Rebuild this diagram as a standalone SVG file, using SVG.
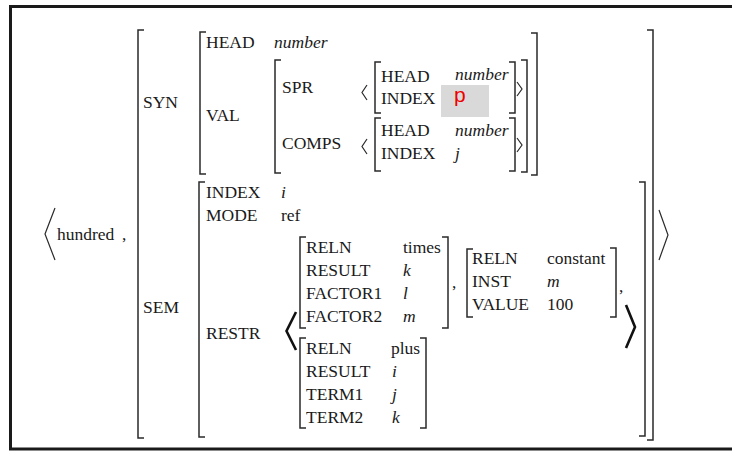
<svg xmlns="http://www.w3.org/2000/svg" width="732" height="452" viewBox="0 0 732 452">
<style>
text{font-family:"Liberation Serif","DejaVu Serif",serif;font-size:17.5px;fill:#1a1a1a}
.i{font-style:italic}
.br{fill:none;stroke:#2a2a2a;stroke-width:1.5}
.ang{fill:none;stroke:#2a2a2a;stroke-width:1.2}
.bang{fill:none;stroke:#111;stroke-width:2.6}
text.p{font-family:"Liberation Sans","DejaVu Sans",sans-serif;font-size:21px;fill:#ee0000}
</style>
<rect x="0" y="0" width="732" height="452" fill="#ffffff"/>
<rect x="10.5" y="6.5" width="740" height="442.5" fill="#ffffff" stroke="#1a1a1a" stroke-width="3"/>

<g font-family="Liberation Serif, serif">
<g id="outer">
  <path class="ang" d="M55 208 L45 234 L55 260"/>
  <text x="57" y="240">hundred</text>
  <text x="122" y="240">,</text>
  <path class="br" d="M144 30 H138 V438 H144"/>
  <path class="br" d="M647 30 H653 V440 H647"/>
  <path class="ang" d="M659 210 L668 235 L659 260"/>
  <text x="143" y="108">SYN</text>
  <text x="143" y="313">SEM</text>
</g>

<g id="syn">
  <path class="br" d="M206 32 H200 V174 H206"/>
  <path class="br" d="M531 33 H537 V175 H531"/>
  <text x="206" y="48">HEAD</text>
  <text class="i" x="274" y="48">number</text>
  <text x="206" y="121">VAL</text>
</g>

<g id="val">
  <path class="br" d="M281 60 H275 V173 H281"/>
  <path class="br" d="M521 60 H527 V172 H521"/>
  <text x="282" y="93">SPR</text>
  <text x="282" y="149">COMPS</text>
</g>

<g id="spr">
  <path class="ang" d="M367 85 L362 92.5 L367 100"/>
  <path class="br" d="M381 62 H375 V113 H381"/>
  <path class="br" d="M509 62 H515 V113 H509"/>
  <path class="ang" d="M517 82 L522 89 L517 96"/>
  <text x="381" y="82">HEAD</text>
  <text class="i" x="455" y="80">number</text>
  <text x="381" y="104">INDEX</text>
  <rect x="441" y="85" width="48" height="32" fill="#d9d9d9"/>
  <text class="p" x="454" y="102">p</text>
</g>

<g id="comps">
  <path class="ang" d="M367 139 L362 146.5 L367 154"/>
  <path class="br" d="M381 118 H375 V171 H381"/>
  <path class="br" d="M509 118 H515 V171 H509"/>
  <path class="ang" d="M517 138 L522 145 L517 152"/>
  <text x="381" y="136">HEAD</text>
  <text class="i" x="455" y="136">number</text>
  <text x="381" y="159">INDEX</text>
  <text class="i" x="455" y="159">j</text>
</g>

<g id="sem">
  <path class="br" d="M205 182 H199 V437 H205"/>
  <path class="br" d="M639 182 H645 V436 H639"/>
  <text x="206" y="198">INDEX</text>
  <text class="i" x="281" y="198">i</text>
  <text x="206" y="221">MODE</text>
  <text x="281" y="221">ref</text>
  <text x="206" y="339">RESTR</text>
  <path class="bang" d="M296 312 L286.5 331 L296 350"/>
  <path class="bang" d="M626 305 L635 327 L626 348"/>
</g>

<g id="times">
  <path class="br" d="M306 237 H300 V328 H306"/>
  <path class="br" d="M442 237 H448 V328 H442"/>
  <text x="306" y="253">RELN</text>
  <text x="403" y="253">times</text>
  <text x="306" y="276">RESULT</text>
  <text class="i" x="403" y="276">k</text>
  <text x="306" y="299">FACTOR1</text>
  <text class="i" x="403" y="299">l</text>
  <text x="306" y="322">FACTOR2</text>
  <text class="i" x="403" y="322">m</text>
  <text x="452" y="288">,</text>
</g>

<g id="constant">
  <path class="br" d="M473 249 H467 V317 H473"/>
  <path class="br" d="M610 248 H616 V317 H610"/>
  <text x="472" y="264">RELN</text>
  <text x="547" y="264">constant</text>
  <text x="472" y="287">INST</text>
  <text class="i" x="547" y="287">m</text>
  <text x="472" y="310">VALUE</text>
  <text x="547" y="310">100</text>
  <text x="619" y="292">,</text>
</g>

<g id="plus">
  <path class="br" d="M306 338 H300 V428 H306"/>
  <path class="br" d="M420 338 H426 V428 H420"/>
  <text x="306" y="354">RELN</text>
  <text x="391" y="354">plus</text>
  <text x="306" y="377">RESULT</text>
  <text class="i" x="392" y="377">i</text>
  <text x="306" y="400">TERM1</text>
  <text class="i" x="392" y="400">j</text>
  <text x="306" y="423">TERM2</text>
  <text class="i" x="392" y="423">k</text>
</g>
</g>
</svg>
